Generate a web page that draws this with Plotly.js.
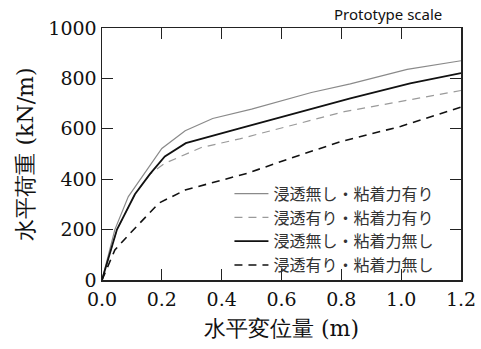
<!DOCTYPE html>
<html>
<head>
<meta charset="utf-8">
<script src="https://cdn.plot.ly/plotly-3.0.1.min.js"></script>
<style>
  html, body { margin: 0; padding: 0; background: #fff; }
  #chart { width: 481px; height: 349px; }
</style>
</head>
<body>
<div id="chart"></div>
<script>
// Horizontal load vs. horizontal displacement, four seepage / cohesion cases
const seriesNames = [
  '浸透無し・粘着力有り',
  '浸透有り・粘着力有り',
  '浸透無し・粘着力無し',
  '浸透有り・粘着力無し'
];

// 浸透無し・粘着力有り
const dispA = [0, 0.043, 0.088, 0.127, 0.2, 0.278, 0.37, 0.5, 0.7, 0.83, 1.02, 1.2];
const loadA = [0, 200, 331, 397, 522, 592, 641, 678, 744, 778, 836, 870];

// 浸透有り・粘着力有り
const dispB = [0, 0.05, 0.11, 0.16, 0.21, 0.33, 0.46, 0.81, 1.2];
const loadB = [0, 200, 340, 420, 463, 525, 560, 668, 752];

// 浸透無し・粘着力無し
const dispC = [0, 0.05, 0.11, 0.16, 0.21, 0.28, 0.46, 0.83, 1.03, 1.2];
const loadC = [0, 200, 340, 420, 490, 543, 602, 721, 780, 821];

// 浸透有り・粘着力無し
const dispD = [0, 0.043, 0.089, 0.145, 0.19, 0.278, 0.412, 0.484, 0.63, 0.8, 1.0, 1.2];
const loadD = [0, 119, 179, 251, 305, 357, 400, 423, 483, 550, 610, 686];

const xTicks = [0, 0.2, 0.4, 0.6, 0.8, 1.0, 1.2];
const yTicks = [0, 200, 400, 600, 800, 1000];

const serif = 'DejaVu Serif';
const cjk = 'Noto Sans CJK JP';

const traces = [
  { x: dispA, y: loadA, name: seriesNames[0], mode: 'lines',
    line: { color: '#8a8a8a', width: 1.2 } },
  { x: dispB, y: loadB, name: seriesNames[1], mode: 'lines',
    line: { color: '#9a9a9a', width: 1.2, dash: '8px,6px' } },
  { x: dispC, y: loadC, name: seriesNames[2], mode: 'lines',
    line: { color: '#111', width: 1.8 } },
  { x: dispD, y: loadD, name: seriesNames[3], mode: 'lines',
    line: { color: '#111', width: 1.6, dash: '8px,6px' } }
];

const axisCommon = {
  showline: true, linecolor: '#222', linewidth: 1.5, mirror: 'ticks',
  ticks: 'inside', ticklen: 11, tickwidth: 1.2, tickcolor: '#222',
  showgrid: false, zeroline: false,
  tickfont: { family: serif, size: 19, color: '#111' }
};

const layout = {
  width: 481, height: 349,
  margin: { l: 102, r: 20, t: 28, b: 69 },
  paper_bgcolor: '#fff', plot_bgcolor: '#fff',
  font: { family: serif },
  showlegend: true,
  legend: {
    x: 0.355, y: 0.41, xanchor: 'left', yanchor: 'top',
    bgcolor: 'rgba(0,0,0,0)', borderwidth: 0,
    itemwidth: 34,
    font: { family: cjk, size: 16, color: '#333' },
    tracegroupgap: 0
  },
  xaxis: Object.assign({}, axisCommon, {
    range: [0, 1.2], tickvals: xTicks, tickformat: '.1f',
    ticklabelstandoff: 2,
    title: { text: '水平変位量 (m)', font: { family: serif, size: 22, color: '#111' }, standoff: 11 }
  }),
  yaxis: Object.assign({}, axisCommon, {
    range: [0, 1000], tickvals: yTicks,
    title: { text: '水平荷重 (kN/m)', font: { family: serif, size: 22, color: '#111' }, standoff: 8 }
  }),
  annotations: [{
    text: 'Prototype scale', xref: 'paper', yref: 'paper',
    x: 0.953, y: 1.056, xanchor: 'right', yanchor: 'middle',
    showarrow: false, font: { family: 'Noto Sans', size: 15, color: '#111' }
  }]
};

Plotly.newPlot('chart', traces, layout, { displayModeBar: false, staticPlot: true });
</script>
</body>
</html>
